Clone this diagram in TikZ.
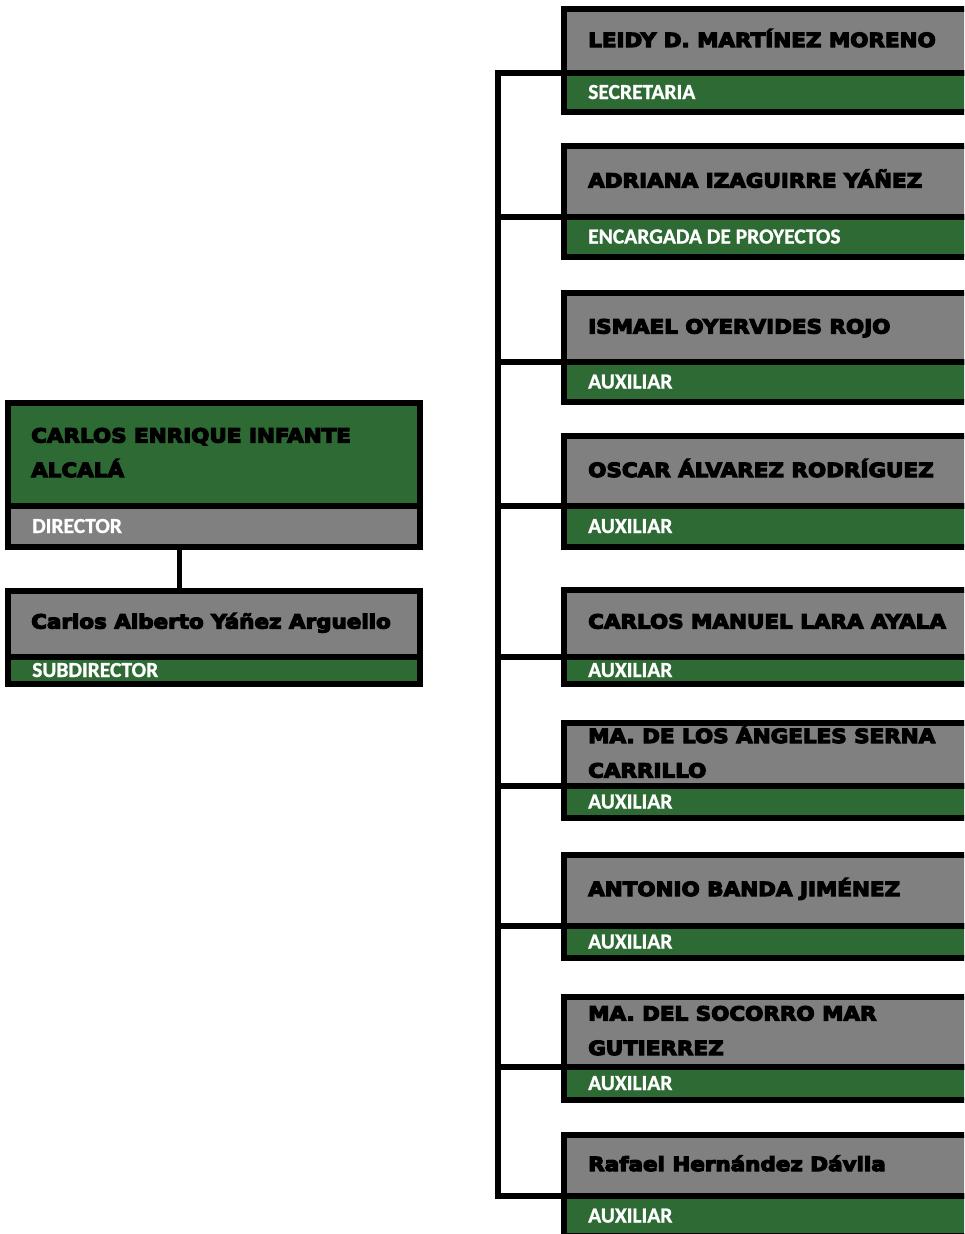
\documentclass[tikz,border=0pt]{standalone}
\usepackage{fontspec}
\newfontfamily\nombrefont{DejaVu Sans Bold}[FakeStretch=1.1,FakeBold=6]
\newfontfamily\cargofont{Carlito}[BoldFeatures={FakeBold=1}]
\definecolor{gris}{RGB}{128,128,128}
\definecolor{verde}{RGB}{45,106,52}
\tikzset{
  caja/.style={draw=black,line width=6pt,inner sep=0pt,outer sep=0pt,anchor=north west},
  nombre/.style={font=\nombrefont\fontsize{19.5}{24}\selectfont,text=black,anchor=base west,inner sep=0pt},
  cargo/.style={font=\cargofont\bfseries\fontsize{21.5}{25}\selectfont,text=white,anchor=base west,inner sep=0pt},
  conector/.style={line width=6pt},
}
\begin{document}
\begin{tikzpicture}[x=1pt,y=-1pt]
  \useasboundingbox (0,0) rectangle (964,1234);
  \clip (0,0) rectangle (964,1234);
  % director y subdirector
  \node[caja,fill=verde,minimum width=412pt,minimum height=103pt] (director-n) at (8,403) {};
  \node[caja,fill=gris,minimum width=412pt,minimum height=41pt] (director-c) at (8,506) {};
  \node[caja,fill=gris,minimum width=412pt,minimum height=66pt] (subdir-n) at (8,591) {};
  \node[caja,fill=verde,minimum width=412pt,minimum height=27pt] (subdir-c) at (8,657) {};
  \draw[conector,line width=5pt] ([xshift=171.5pt]director-c.south west) -- ([xshift=171.5pt]subdir-n.north west);
  \node[nombre] (director-nom) at (31,442.5) {CARLOS ENRIQUE INFANTE};
  \node[nombre] (director-nom2) at (31,477) {ALCALÁ};
  \node[cargo] (director-car) at (32,533) {DIRECTOR};
  \node[nombre] (subdir-nom) at (31,628.5) {Carlos Alberto Yáñez Arguello};
  \node[cargo] (subdir-car) at (32,677) {SUBDIRECTOR};
  % personal
  \foreach \id/\t/\s/\b in {leidy/6/70/115,adriana/143/214/260,ismael/290/359/405,
      oscar/433/503/550,carlos/587/654/687,angeles/720/783/821,antonio/852/923/961,
      socorro/994/1064/1103,rafael/1132/1193/1239}{
    \node[caja,fill=gris,minimum width=406pt,minimum height={\s-\t}] (\id-n) at (564,\t+3) {};
    \node[caja,fill=verde,minimum width=406pt,minimum height={\b-\s-6}] (\id-c) at (564,\s+3) {};
  }
  \coordinate (eje) at (498,0);
  \draw[conector] (leidy-n.south west) -- (leidy-n.south west -| eje)
    -- (rafael-n.south west -| eje) -- (rafael-n.south west);
  \foreach \id in {adriana,ismael,oscar,carlos,angeles,antonio,socorro}
    \draw[conector] (\id-n.south west) -- (\id-n.south west -| eje);
  \node[nombre] (leidy-nom) at (588,47) {LEIDY D. MARTÍNEZ MORENO};
  \node[cargo] (leidy-car) at (588,99) {SECRETARIA};
  \node[nombre] (adriana-nom) at (588,187.5) {ADRIANA IZAGUIRRE YÁÑEZ};
  \node[cargo] (adriana-car) at (588,243.5) {ENCARGADA DE PROYECTOS};
  \node[nombre] (ismael-nom) at (588,333.5) {ISMAEL OYERVIDES ROJO};
  \node[cargo] (ismael-car) at (588,388.5) {AUXILIAR};
  \node[nombre] (oscar-nom) at (588,477) {OSCAR ÁLVAREZ RODRÍGUEZ};
  \node[cargo] (oscar-car) at (588,533) {AUXILIAR};
  \node[nombre] (carlos-nom) at (588,628.5) {CARLOS MANUEL LARA AYALA};
  \node[cargo] (carlos-car) at (588,677) {AUXILIAR};
  \node[nombre] (angeles-nom) at (588,743) {MA. DE LOS ÁNGELES SERNA};
  \node[nombre] (angeles-nom2) at (588,777.5) {CARRILLO};
  \node[cargo] (angeles-car) at (588,808.5) {AUXILIAR};
  \node[nombre] (antonio-nom) at (588,896) {ANTONIO BANDA JIMÉNEZ};
  \node[cargo] (antonio-car) at (588,948.5) {AUXILIAR};
  \node[nombre] (socorro-nom) at (588,1020.5) {MA. DEL SOCORRO MAR};
  \node[nombre] (socorro-nom2) at (588,1055) {GUTIERREZ};
  \node[cargo] (socorro-car) at (588,1090) {AUXILIAR};
  \node[nombre] (rafael-nom) at (588,1171) {Rafael Hernández Dávila};
  \node[cargo] (rafael-car) at (588,1222.5) {AUXILIAR};
\end{tikzpicture}
\end{document}
